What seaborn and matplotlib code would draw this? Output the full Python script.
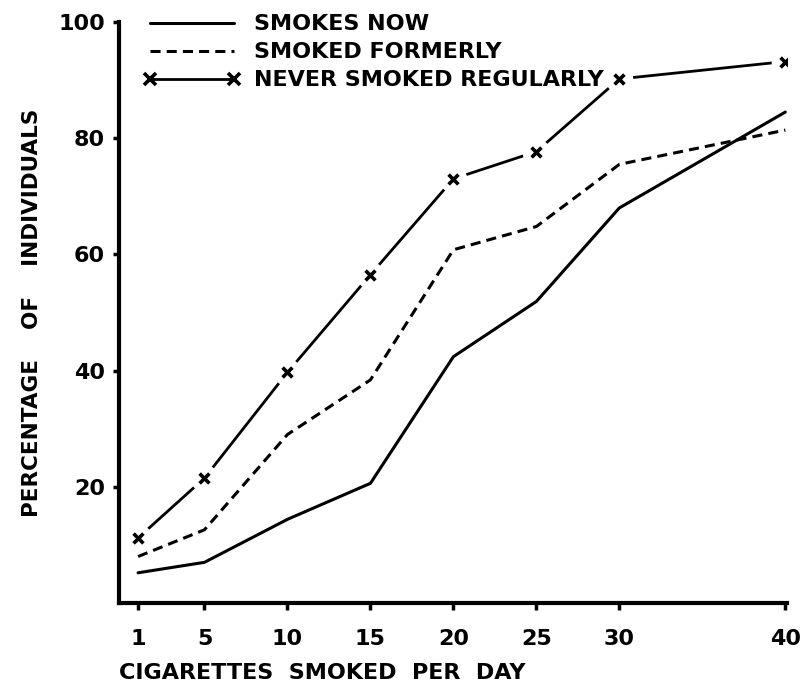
import pandas as pd
import seaborn as sns
import matplotlib.pyplot as plt
from matplotlib.lines import Line2D

# cigarettes per day (x) and percentage of individuals (y)
cigarettes = [1, 5, 10, 15, 20, 25, 30, 40]
smokes_now = [5.2, 7.0, 14.4, 20.6, 42.4, 51.9, 68.0, 84.5]
smoked_formerly = [8.0, 12.6, 29.0, 38.4, 60.8, 64.8, 75.5, 81.4]
never_smoked = [11.2, 21.5, 39.7, 56.5, 73.0, 77.7, 90.2, 93.2]

x_ticks = [1, 5, 10, 15, 20, 25, 30, 40]
y_ticks = [20, 40, 60, 80, 100]

df = pd.DataFrame({
    "cigs": cigarettes,
    "now": smokes_now,
    "formerly": smoked_formerly,
    "never": never_smoked,
})

sns.set_style("ticks")
plt.rcParams["font.family"] = ["DejaVu Sans"]
plt.rcParams["font.weight"] = "bold"
for key in ["text.color", "axes.labelcolor", "xtick.color", "ytick.color", "axes.edgecolor"]:
    plt.rcParams[key] = "black"

fig = plt.figure(figsize=(8.02, 6.86), dpi=100)
ax = fig.add_axes([119 / 802, 83 / 686, (787 - 119) / 802, (603 - 22) / 686])

lw = 2.2
dash = (0, (3.3, 2.0))
sns.lineplot(data=df, x="cigs", y="now", color="black", linewidth=lw, ax=ax, zorder=1)
sns.lineplot(data=df, x="cigs", y="formerly", color="black", linewidth=lw,
             ax=ax, linestyle=dash, zorder=1)
sns.lineplot(data=df, x="cigs", y="never", color="black", linewidth=lw - 0.2,
             ax=ax, zorder=1)

# white discs break the line around each cross
mask = sns.scatterplot(data=df, x="cigs", y="never", marker="o", s=340,
                       color="white", ax=ax)
mask.collections[-1].set_facecolor("white")
mask.collections[-1].set_edgecolor("white")
mask.collections[-1].set_zorder(4)
sns.scatterplot(data=df, x="cigs", y="never", marker="x", s=50, color="black",
                linewidth=2.6, ax=ax)
ax.collections[-1].set_zorder(5)

ax.set_xlim(-0.15, 40.1)
ax.set_ylim(0, 100)
ax.set_xticks(x_ticks)
ax.set_xticklabels([str(v) for v in x_ticks])
ax.set_yticks(y_ticks)
ax.set_yticklabels([str(v) for v in y_ticks])

sns.despine(ax=ax)
for s in ["left", "bottom"]:
    ax.spines[s].set_linewidth(3)
    ax.spines[s].set_zorder(6)
ax.tick_params(axis="both", width=2.5, labelsize=16)
ax.tick_params(axis="y", length=4, pad=6)
ax.tick_params(axis="x", length=5, pad=14)

ax.set_xlabel("CIGARETTES  SMOKED  PER  DAY", loc="left", fontsize=16,
              fontweight="bold", labelpad=10)
ax.set_ylabel("PERCENTAGE    OF    INDIVIDUALS", fontsize=15.5, fontweight="bold",
              labelpad=12)

handles = [
    Line2D([], [], color="black", linewidth=lw),
    Line2D([], [], color="black", linewidth=lw, linestyle=dash),
    Line2D([], [], color="black", linewidth=lw - 0.2, marker="x",
           markersize=8, markeredgewidth=2.6),
]
labels = ["SMOKES NOW", "SMOKED FORMERLY", "NEVER SMOKED REGULARLY"]
ax.legend(handles, labels, loc="upper left", bbox_to_anchor=(0.036, 1.013),
          frameon=False, borderpad=0, borderaxespad=0, numpoints=2,
          handlelength=4.4, handletextpad=0.6, labelspacing=0.36,
          prop={"size": 16, "weight": "bold"})

plt.savefig("out.png", dpi=100)
